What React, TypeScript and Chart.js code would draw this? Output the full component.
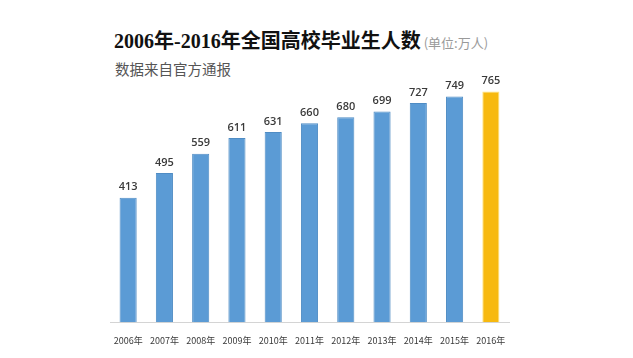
import React, { useEffect, useRef } from "react";
import { Chart, registerables } from "chart.js";

Chart.register(...registerables);

const years = ["2006年", "2007年", "2008年", "2009年", "2010年", "2011年", "2012年", "2013年", "2014年", "2015年", "2016年"];
const graduates = [413, 495, 559, 611, 631, 660, 680, 699, 727, 749, 765];
const barColors = ["#5b9bd5", "#5b9bd5", "#5b9bd5", "#5b9bd5", "#5b9bd5", "#5b9bd5", "#5b9bd5", "#5b9bd5", "#5b9bd5", "#5b9bd5", "#f7b90f"];
const borderColors = ["#4f8cc4", "#4f8cc4", "#4f8cc4", "#4f8cc4", "#4f8cc4", "#4f8cc4", "#4f8cc4", "#4f8cc4", "#4f8cc4", "#4f8cc4", "#ffe27a"];

const valueLabels = {
  id: "valueLabels",
  afterDatasetsDraw(chart: any) {
    const ctx = chart.ctx;
    const meta = chart.getDatasetMeta(0);
    ctx.save();
    ctx.font = "600 11px 'Open Sans', 'Liberation Sans', sans-serif";
    ctx.fillStyle = "#3a3a3a";
    ctx.textAlign = "center";
    ctx.textBaseline = "bottom";
    meta.data.forEach((bar: any, i: number) => {
      ctx.fillText(String(graduates[i]), bar.x, bar.y - 5);
    });
    ctx.restore();
  },
};

export default function App() {
  const ref = useRef<HTMLCanvasElement>(null);
  useEffect(() => {
    document.body.style.margin = "0";
    const chart = new Chart(ref.current!, {
      type: "bar",
      data: {
        labels: years,
        datasets: [
          {
            data: graduates,
            backgroundColor: barColors,
            borderColor: borderColors,
            borderWidth: 1,
            categoryPercentage: 0.8,
            barPercentage: 0.59,
          },
        ],
      },
      options: {
        animation: false,
        responsive: false,
        maintainAspectRatio: false,
        layout: { padding: { left: 110, right: 124, top: 81, bottom: 7 } },
        plugins: { legend: { display: false }, tooltip: { enabled: false } },
        scales: {
          x: {
            grid: { display: false },
            border: { display: true, color: "#d4d4d4", width: 1 },
            ticks: {
              color: "#3a3a3a",
              font: { size: 9, family: "'Noto Sans CJK SC', sans-serif" },
              padding: 5,
              maxRotation: 0,
              autoSkip: false,
            },
          },
          y: { display: false, min: 0, max: 800 },
        },
      },
      plugins: [valueLabels],
    });
    return () => chart.destroy();
  }, []);

  return (
    <div style={{ position: "relative", width: 633, height: 358, background: "#fff", overflow: "hidden" }}>
      <div
        style={{
          position: "absolute",
          left: 114,
          top: 29,
          whiteSpace: "nowrap",
          fontFamily: "'Liberation Serif', 'Noto Sans CJK SC', serif",
          fontWeight: 700,
          fontSize: 20,
          color: "#111",
          lineHeight: "24px",
        }}
      >
        2006年-2016年全国高校毕业生人数
        <span style={{ fontSize: 13, fontWeight: 400, color: "#9a9a9a", fontFamily: "'Noto Sans CJK SC', serif", marginLeft: 3 }}>(单位:万人)</span>
      </div>
      <div
        style={{
          position: "absolute",
          left: 115,
          top: 59,
          whiteSpace: "nowrap",
          fontFamily: "'Noto Sans CJK SC', sans-serif",
          fontSize: 14.5,
          color: "#555",
          lineHeight: "20px",
        }}
      >
        数据来自官方通报
      </div>
      <canvas ref={ref} width={633} height={358} style={{ position: "absolute", left: 0, top: 0 }} />
    </div>
  );
}
